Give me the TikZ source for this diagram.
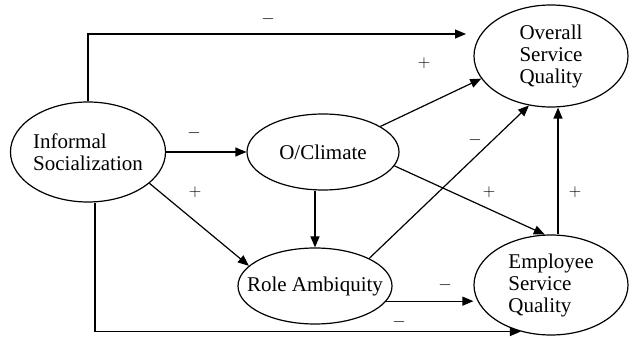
\documentclass[tikz,border=0pt]{standalone}
\usepackage{fontspec}
\usepackage{amsmath}
\setmainfont{Liberation Serif}
\usetikzlibrary{shapes.geometric}
\usetikzlibrary{arrows.meta}

\tikzset{
  construct/.style={draw, ellipse, line width=1.2pt, inner sep=0pt, align=left,
    font=\fontsize{21}{22}\selectfont},
  link/.style={line width=1.2pt, -{Triangle[length=11pt,width=9pt]}},
  sign/.style={font=\fontsize{16}{18}\selectfont}
}

\begin{document}
\begin{tikzpicture}[x=1pt,y=1pt]
    \useasboundingbox (0,0) rectangle (636,337);
    % Constructs
    \node[construct, minimum width=154pt, minimum height=100pt] (infsoc) at (88,185) {Informal\\Socialization};
    \node[construct, minimum width=152pt, minimum height=76pt] (climate) at (323,185) {O/Climate};
    \node[construct, minimum width=154pt, minimum height=76pt, inner xsep=-14pt] (role) at (315,51) {Role Ambiquity};
    \node[construct, minimum width=154pt, minimum height=102pt] (overall) at (551,281) {Overall\\Service\\Quality};
    \node[construct, minimum width=154pt, minimum height=100pt] (employee) at (551,52) {Employee\\Service\\Quality};
    \coordinate (toptip) at (466,303);
    %
% Paths from Informal Socialization:
 \draw[link] (infsoc.north) |- (toptip);
 \draw[link] (infsoc) -- (climate);
 \draw[link] (infsoc.-27) -- (role.163);
 \draw[link] ([xshift=7pt]infsoc.south) |- (employee.-123);
 % Paths from O/Climate:
 \draw[link] (climate.south -| role) -- (role.north);
 \draw[link] (climate.24) -- (overall.198);
 \draw[link] (climate.-11) -- (employee.97);
 % Paths from Role Ambiquity:
 \draw[link] (role.27) -- (overall.246);
 \draw[link] (role.-12) -- (role.-12 -| employee.west);
 % Employee to Overall
 \draw[link] ([xshift=7pt]employee.north) -- ([xshift=7pt]overall.south);
 %
 % Signs
 \node[sign] (s1) at (268,318) {$-$};
 \node[sign] (s2) at (194,204) {$-$};
 \node[sign] (s3) at (195,145) {$+$};
 \node[sign] (s4) at (399,15) {$-$};
 \node[sign] (s5) at (424,274) {$+$};
 \node[sign] (s6) at (475,197) {$-$};
 \node[sign] (s7) at (489,145) {$+$};
 \node[sign] (s8) at (575,145) {$+$};
 \node[sign] (s9) at (445,52) {$-$};
\end{tikzpicture}
\end{document}
